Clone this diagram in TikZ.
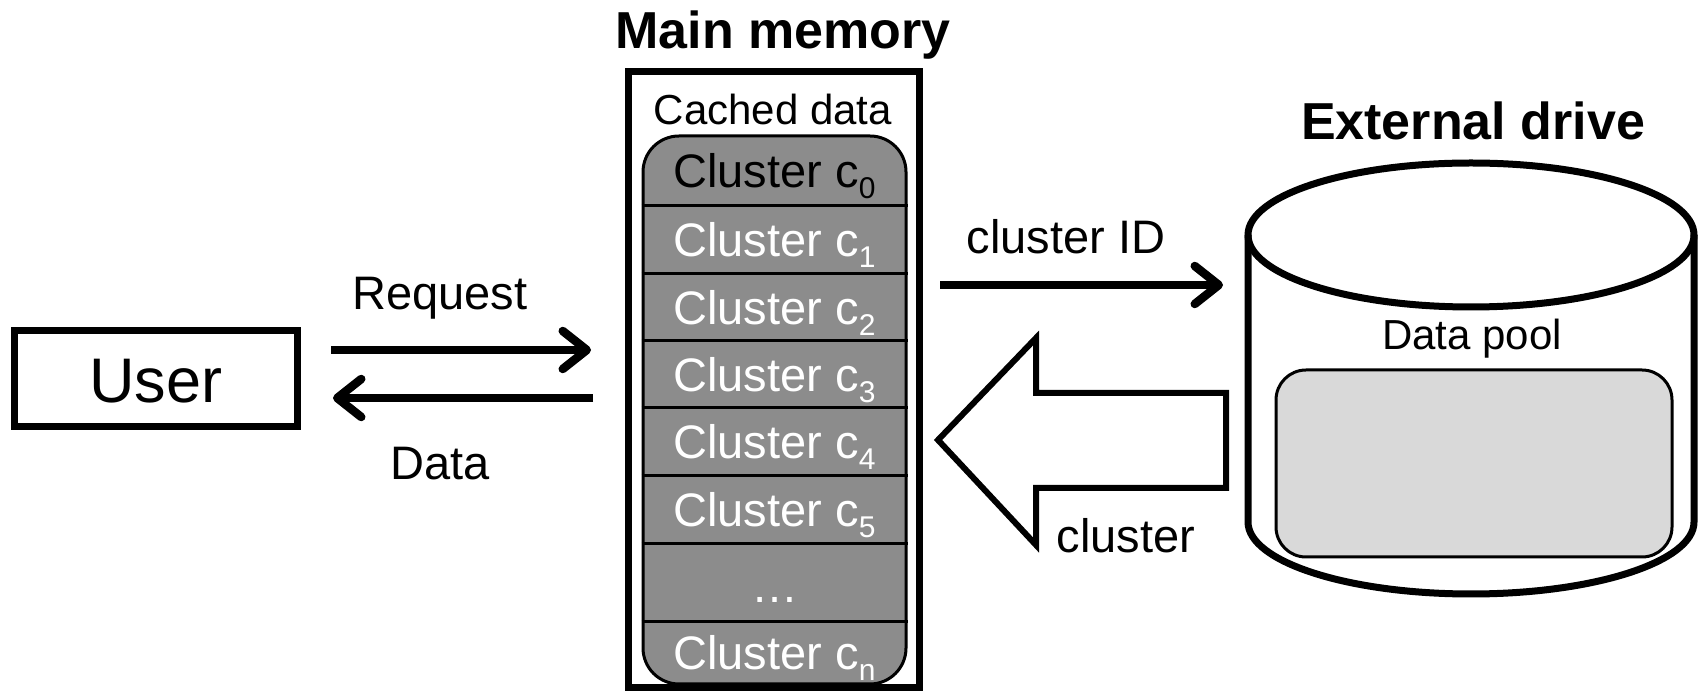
\documentclass[tikz,border=0pt]{standalone}
\usepackage{fontspec}
\setmainfont{Liberation Sans}
\usetikzlibrary{arrows.meta}
\newcommand\fsz[1]{\fontsize{#1}{#1}\selectfont}
\newcommand\csub[1]{\raisebox{-11pt}{\fsz{30}#1}}
\definecolor{stackgray}{RGB}{140,140,140}
\definecolor{poolgray}{RGB}{217,217,217}
\begin{document}
\begin{tikzpicture}[x=1pt,y=1pt,
  title/.style={font=\fsz{52}\bfseries, inner sep=0pt, anchor=base},
  lbl/.style={font=\fsz{47}, inner sep=0pt, anchor=base},
  small/.style={font=\fsz{42}, inner sep=0pt, anchor=base},
  row/.style={font=\fsz{47}, inner sep=0pt, anchor=base, text=white},
  sep/.style={line width=3pt},
  thinarrow/.style={line width=8.5pt, -{Straight Barb[length=24pt,width=38pt,round]}},
  box/.style={draw, line width=7pt, inner sep=0pt}]
\useasboundingbox (0,0) rectangle (1705,693);

% User
\node[box, minimum width=282.5pt, minimum height=96pt, font=\fsz{63}] (user) at (155.75,314) {};
\node[inner sep=0pt, anchor=base, font=\fsz{63}] (usertxt) at (156,290) {User};

% Main memory
\node[title] (mmtitle) at (783,644) {Main memory};
\node[box, minimum width=290.5pt, minimum height=616pt] (mem) at (773.75,313) {};
\node[small] (cached) at (773,568) {Cached data};
\node[draw, line width=3pt, fill=stackgray, rounded corners=36pt, minimum width=263pt, minimum height=548pt, inner sep=0pt] (stack) at (774.5,283) {};
\foreach \yy in {487,419,352,285,217,149,71}
  \draw[sep] (stack.west |- 0,\yy) -- (stack.east |- 0,\yy);
\node[row, text=black] (r0) at (774.5,505) {Cluster c\csub{0}};
\node[row] (r1) at (774.5,436) {Cluster c\csub{1}};
\node[row] (r2) at (774.5,368.5) {Cluster c\csub{2}};
\node[row] (r3) at (774.5,301.5) {Cluster c\csub{3}};
\node[row] (r4) at (774.5,234) {Cluster c\csub{4}};
\node[row] (r5) at (774.5,166) {Cluster c\csub{5}};
\node[row] (rdots) at (774.5,90) {\dots};
\node[row] (rn) at (774.5,23) {Cluster c\csub{n}};

% user <-> memory arrows
\coordinate (reqs) at (331,343);
\coordinate (reqe) at (591,343);
\coordinate (dats) at (593,295);
\coordinate (date) at (333,295);
\draw[thinarrow] (reqs) -- (reqe);
\draw[thinarrow] (dats) -- (date);
\node[lbl] (reqlbl) at (440,383) {Request};
\node[lbl] (datlbl) at (440,213) {Data};

% External drive
\node[title] (edtitle) at (1473,553) {External drive};
\draw[line width=7pt, fill=white] (1248,458) -- (1248,171)
  arc[start angle=180, end angle=360, x radius=223, y radius=72] -- (1694,458);
\draw[line width=7pt] (1471,458) ellipse [x radius=223, y radius=72];
\node[small] (pooltxt) at (1472,343) {Data pool};
\node[draw, line width=3pt, fill=poolgray, rounded corners=30pt, minimum width=396pt, minimum height=187pt, inner sep=0pt] (pool) at (1474,229.5) {};

% cluster ID arrow
\coordinate (ids) at (940,408);
\coordinate (ide) at (1223,408);
\draw[thinarrow] (ids) -- (ide);
\node[lbl] (idlbl) at (1066,439) {cluster ID};

% big hollow arrow
\draw[line width=6pt, line join=miter, miter limit=10, fill=white]
  (938,253) -- (1036,355) -- (1036,300) -- (1226,300) -- (1226,205)
  -- (1036,205) -- (1036,148) -- cycle;
\node[lbl] (cllbl) at (1126,140) {cluster};
\end{tikzpicture}
\end{document}
